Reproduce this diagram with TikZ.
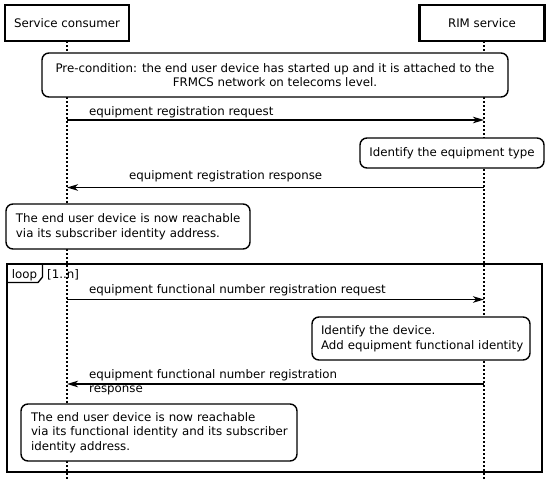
\documentclass[tikz,border=0pt]{standalone}
\usepackage{fontspec}
\setmainfont{DejaVu Sans}
\usetikzlibrary{arrows.meta}
\begin{document}
\begin{tikzpicture}[x=1pt,y=-1pt,
  font=\fontsize{11.8}{14.6}\selectfont,
  actor/.style={draw,line width=2.2pt,minimum height=36pt,inner sep=0pt,fill=white},
  note/.style={draw,line width=1.4pt,rounded corners=7pt,fill=white,inner ysep=0pt},
  msg/.style={line width=1.4pt,-{Stealth[length=11pt,width=6.5pt,inset=3pt]}},
  life/.style={line width=1.5pt,dash pattern=on 2pt off 2pt},
  lbl/.style={inner sep=0pt,anchor=base west},
  frame/.style={line width=1.6pt}]
\useasboundingbox (0,0) rectangle (550,479);
% participants
\node[actor,minimum width=124pt] (sc) at (67,23) {Service consumer};
\node[actor,minimum width=125pt] (rim) at (482,23) {RIM service};
% lifelines
\coordinate (sctop) at (67,41);
\coordinate (scend) at (67,479);
\coordinate (rimtop) at (484,41);
\coordinate (rimend) at (484,479);
\draw[life] (sctop) -- (scend);
\draw[life] (rimtop) -- (rimend);
% loop frame
\coordinate (fr1) at (7,264);
\coordinate (fr2) at (542,472);
\draw[frame] (fr1) rectangle (fr2);
\draw[line width=1.3pt] (7,282.5) -- (38,282.5) -- (42.5,277) -- (42.5,264);
\node[inner sep=0pt,anchor=base] (looplbl) at (24.5,278) {loop};
\node[inner sep=0pt,anchor=base west] (guard) at (47,278) {[1..n]};
% pre-condition
\node[note,minimum width=466pt,minimum height=44pt,align=center] (pre) at (275,75)
  {Pre-condition: the end user device has started up and it is attached to the\\FRMCS network on telecoms level.};
% message 1
\coordinate (m1s) at (67,120);
\coordinate (m1e) at (484,120);
\draw[msg] (m1s) -- (m1e);
\node[lbl] (l1) at (89,115) {equipment registration request};
% identify equipment type
\node[note,minimum width=184pt,minimum height=30pt] (idt) at (452,153) {Identify the equipment type};
% message 2
\coordinate (m2s) at (484,187.5);
\coordinate (m2e) at (67,187.5);
\draw[msg] (m2s) -- (m2e);
\node[lbl] (l2) at (129,179) {equipment registration response};
% reachable 1
\node[note,inner xsep=10pt,text width=224pt,align=left,minimum height=45pt] (r1) at (128,226.5)
  {\mbox{The end user device is now reachable}\\\mbox{via its subscriber identity address.}};
% message 3
\coordinate (m3s) at (67,299.5);
\coordinate (m3e) at (484,299.5);
\draw[msg] (m3s) -- (m3e);
\node[lbl] (l3) at (89,293.5) {equipment functional number registration request};
% identify device
\node[note,inner xsep=9pt,text width=200pt,align=left,minimum height=43pt] (idd) at (421,338.5)
  {\mbox{Identify the device.}\\\mbox{Add equipment functional identity}};
% message 4
\coordinate (m4s) at (484,384);
\coordinate (m4e) at (67,384);
\draw[msg] (m4s) -- (m4e);
\node[lbl] (l4a) at (89,378) {equipment functional number registration};
\node[lbl] (l4b) at (89,392) {response};
% reachable 2
\node[note,inner xsep=10pt,text width=256pt,align=left,minimum height=57pt] (r2) at (159,432.5)
  {\mbox{The end user device is now reachable}\\\mbox{via its functional identity and its subscriber}\\\mbox{identity address.}};
\end{tikzpicture}
\end{document}
